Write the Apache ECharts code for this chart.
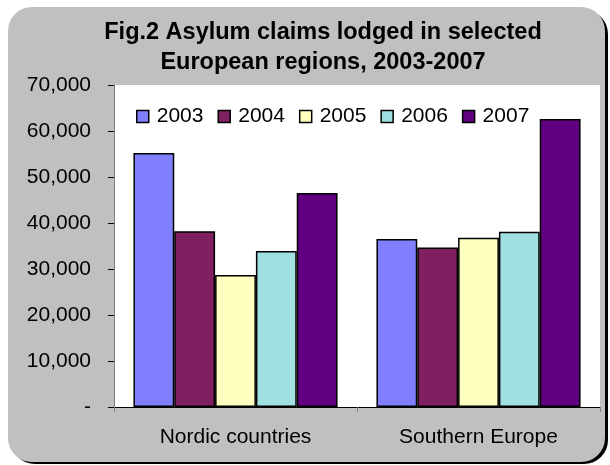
<!DOCTYPE html>
<html><head><meta charset="utf-8">
<script src="https://cdn.jsdelivr.net/npm/echarts@6/dist/echarts.min.js"></script>
<style>html,body{margin:0;padding:0;background:#fff}#c{width:610px;height:465px}</style>
</head><body><div id="c"></div>
<script>
var categories = ['Nordic countries', 'Southern Europe'];
var years = ['2003', '2004', '2005', '2006', '2007'];
var v2003 = [55200, 36500];
var v2004 = [38200, 34700];
var v2005 = [28700, 36800];
var v2006 = [33900, 38100];
var v2007 = [46500, 62600];
var yTicks = [0, 10000, 20000, 30000, 40000, 50000, 60000, 70000];
var colors = ['#8080FF', '#802060', '#FFFFC0', '#A0E0E0', '#600080'];
var seriesValues = [v2003, v2004, v2005, v2006, v2007];

var chart = echarts.init(document.getElementById('c'));
var font = 'Liberation Sans, Arial, sans-serif';
chart.setOption({
  animation: false,
  backgroundColor: '#ffffff',
  graphic: [
    {type: 'rect', z: -10, shape: {x: 11, y: 10, width: 597, height: 454, r: 24}, style: {fill: '#000000'}},
    {type: 'rect', z: -9, shape: {x: 8, y: 7, width: 597, height: 455, r: 24}, style: {fill: '#C0C0C0'}}
  ],
  title: {
    text: 'Fig.2 Asylum claims lodged in selected\nEuropean regions, 2003-2007',
    left: 318, top: 13, textAlign: 'center',
    textStyle: {fontFamily: font, fontSize: 23.5, fontWeight: 'bold', color: '#000', lineHeight: 30}
  },
  legend: {
    data: years, left: 131, top: 101, itemWidth: 12, itemHeight: 12, itemGap: 14,
    textStyle: {fontFamily: font, fontSize: 21, color: '#000', padding: [0, 0, 0, 3]},
    icon: 'rect',
    itemStyle: {borderColor: '#000', borderWidth: 1.5}
  },
  grid: {left: 114, right: 10, top: 85, bottom: 58, show: true, backgroundColor: '#ffffff', borderWidth: 0},
  xAxis: {
    type: 'category', data: categories,
    axisLine: {lineStyle: {color: '#000', width: 1}},
    axisTick: {show: true, length: 5, lineStyle: {color: '#808080'}},
    axisLabel: {fontFamily: font, fontSize: 21, color: '#000', margin: 20}
  },
  yAxis: {
    type: 'value', min: 0, max: 70000, interval: 10000,
    splitLine: {show: false},
    axisLine: {show: true, lineStyle: {color: '#808080'}},
    axisTick: {show: true, length: 6, lineStyle: {color: '#000'}},
    axisLabel: {
      fontFamily: font, fontSize: 21, color: '#000', margin: 23,
      formatter: function (v) { return v === 0 ? '-' : v.toLocaleString('en-US'); }
    }
  },
  series: seriesValues.map(function (vals, i) {
    return {
      name: years[i], type: 'bar', data: vals,
      barGap: '0%', barCategoryGap: '16%',
      itemStyle: {color: colors[i], borderColor: '#000', borderWidth: 1.5}
    };
  })
});
</script></body></html>
